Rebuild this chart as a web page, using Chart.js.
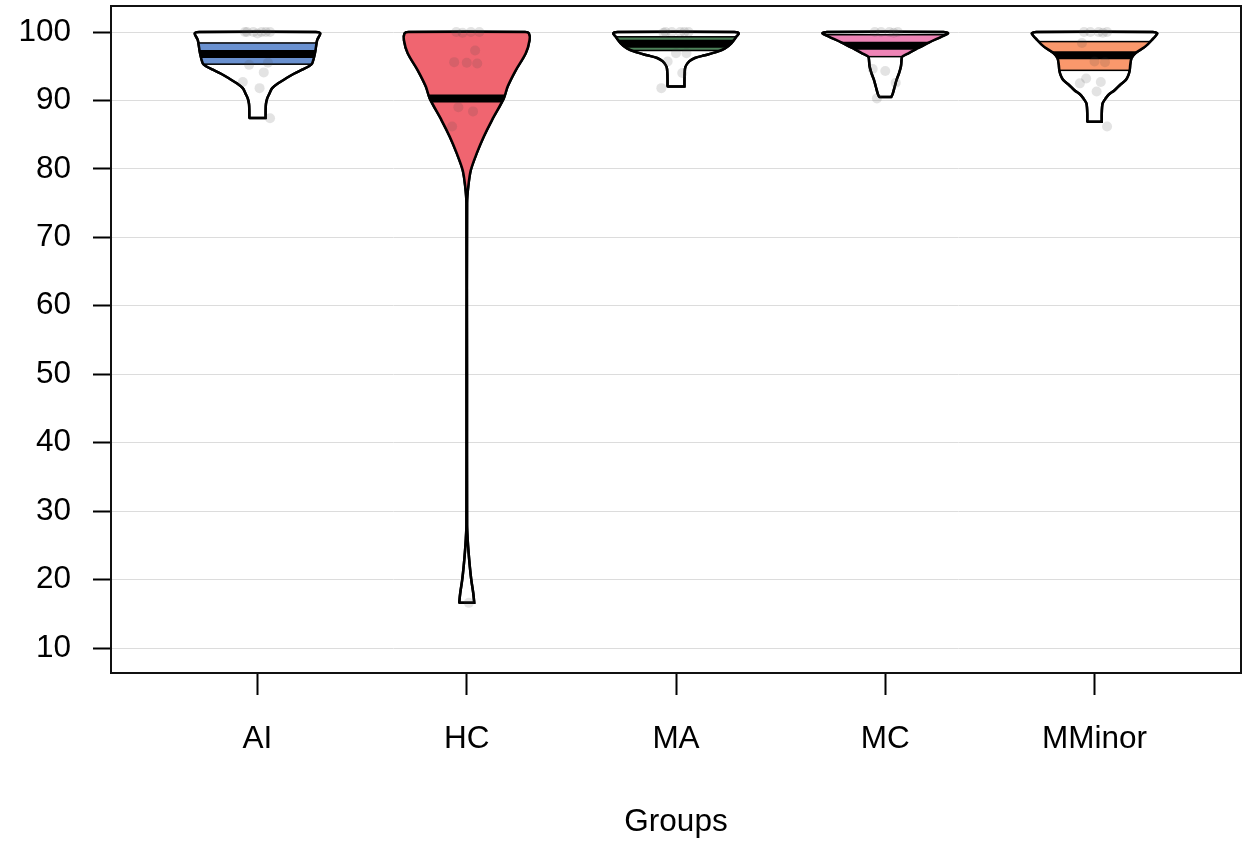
<!DOCTYPE html>
<html>
<head>
<meta charset="utf-8">
<script src="https://cdn.jsdelivr.net/npm/chart.js@4.4.1/dist/chart.umd.min.js"></script>
<style>
  html, body { margin: 0; padding: 0; background: #fff; }
</style>
</head>
<body>
<canvas id="pirate" width="1253" height="841"></canvas>
<script>
const groups = ['AI', 'HC', 'MA', 'MC', 'MMinor'];
const yTicks = [10, 20, 30, 40, 50, 60, 70, 80, 90, 100];

// individual scores per group
const aiScores = [100, 100, 100, 100, 100, 100, 99.8, 95.5, 95.2, 94.1, 92.7, 91.8, 87.4];
const hcScores = [100, 100, 100, 99.9, 97.3, 95.6, 95.5, 95.4, 89.0, 88.4, 86.2, 16.6];
const maScores = [100, 100, 100, 100, 100, 99.9, 96.9, 96.9, 95.7, 94.0, 91.8];
const mcScores = [100, 100, 100, 100, 99.9, 94.6, 94.3, 92.6, 90.3];
const mminorScores = [100, 100, 100, 100, 99.9, 98.4, 95.7, 95.6, 93.2, 92.7, 92.5, 91.3, 86.2];

// mean and inference band per group
const means = [96.8, 90.3, 98.3, 98.0, 96.6];
const bandLow = [95.3, 50, 97.3, 96.4, 94.4];
const bandHigh = [98.4, 100, 99.3, 99.6, 98.6];

// bean outlines: [score, relative density]
const aiBean = [[87.45, 0.13], [88.5, 0.13], [89.5, 0.135], [90.3, 0.155], [91.0, 0.19], [91.8, 0.235],
  [92.5, 0.33], [93.2, 0.45], [93.9, 0.58], [94.5, 0.71], [95.0, 0.82], [95.4, 0.87], [96.9, 0.915],
  [98.8, 0.95], [99.8, 1.0], [100, 0.93]];
const hcBean = [[16.6, 0.12], [18, 0.104], [20, 0.072], [22, 0.048], [24, 0.029], [26, 0.014], [28, 0.005],
  [50, 0.004], [75, 0.005], [77.4, 0.024], [79.8, 0.064], [82.3, 0.16], [84.7, 0.27], [87.1, 0.40],
  [90.3, 0.59], [92.0, 0.65], [94.4, 0.78], [96.9, 0.94], [98.8, 1.0], [99.8, 0.99], [100, 0.93]];
const maBean = [[92.05, 0.135], [93, 0.135], [94, 0.138], [94.9, 0.15], [95.7, 0.21], [96.2, 0.30],
  [96.6, 0.46], [97.1, 0.65], [97.6, 0.78], [98.35, 0.88], [99.3, 0.96], [99.8, 1.0], [100, 0.93]];
const mcBean = [[90.5, 0.096], [91, 0.12], [92, 0.15], [93, 0.18], [94, 0.22], [95, 0.25], [96, 0.26],
  [96.4, 0.27], [96.8, 0.35], [97.5, 0.49], [98.5, 0.70], [99.3, 0.89], [99.8, 1.0], [100, 0.93]];
const mminorBean = [[86.9, 0.115], [88, 0.115], [89, 0.12], [89.6, 0.13], [90.2, 0.17], [90.8, 0.22],
  [91.5, 0.32], [92.3, 0.41], [93.0, 0.50], [93.7, 0.54], [94.4, 0.56], [95.3, 0.57], [96.2, 0.59],
  [96.9, 0.65], [97.9, 0.81], [98.8, 0.91], [99.8, 1.0], [100, 0.93]];

const allScores = [aiScores, hcScores, maScores, mcScores, mminorScores];
const allBeans = [aiBean, hcBean, maBean, mcBean, mminorBean];

const bandColors = ['rgb(106,145,208)', 'rgb(240,101,112)', 'rgb(78,130,90)', 'rgb(238,132,182)', 'rgb(250,152,108)'];
const beanWidth = 0.3;
const jitter = [-0.05, 0.02, 0.06, -0.02, 0.04, -0.06, 0.0, 0.05, -0.04, 0.03, -0.07, 0.01, 0.06];
const font = { family: '"Liberation Sans", Arial, sans-serif', size: 31.5 };

// closed outline: left side up, right side down, back to start
function beanOutline(bean, pos) {
  const left = bean.map(([y, d]) => ({ x: pos - d * beanWidth, y: y }));
  const right = bean.slice().reverse().map(([y, d]) => ({ x: pos + d * beanWidth, y: y }));
  // doubled bottom corners keep the flat bottom sharp
  return [left[0], ...left, ...right, right[right.length - 1], left[0], left[0]];
}

const datasets = [];
const points = [];
allScores.forEach((scores, i) => {
  scores.forEach((s, k) => points.push({ x: i + 1 + jitter[k % jitter.length], y: s }));
});
datasets.push({
  label: 'scores',
  data: points,
  showLine: false,
  pointRadius: 5,
  pointHoverRadius: 5,
  pointBorderWidth: 0,
  pointBackgroundColor: 'rgba(70,70,70,0.15)',
  order: 0
});
allBeans.forEach((bean, i) => {
  datasets.push({
    label: groups[i],
    beanIndex: i,
    data: beanOutline(bean, i + 1),
    showLine: true,
    fill: 'shape',
    backgroundColor: '#fff',
    borderColor: '#000',
    borderWidth: 2.5,
    tension: 0.3,
    pointRadius: 0,
    order: 1
  });
});

// inference band + mean bar clipped to each bean
const bandPlugin = {
  id: 'bands',
  afterDatasetDraw(chart, args) {
    const ds = chart.data.datasets[args.index];
    if (ds.beanIndex === undefined) return;
    const i = ds.beanIndex;
    const ctx = chart.ctx;
    const xs = chart.scales.x, ys = chart.scales.y;
    const line = args.meta.dataset;
    const x0 = xs.getPixelForValue(i + 1 - beanWidth - 0.05);
    const x1 = xs.getPixelForValue(i + 1 + beanWidth + 0.05);
    ctx.save();
    ctx.beginPath();
    line.path(ctx);
    ctx.closePath();
    ctx.clip();
    const yTop = ys.getPixelForValue(bandHigh[i]);
    const yBot = ys.getPixelForValue(bandLow[i]);
    ctx.fillStyle = bandColors[i];
    ctx.fillRect(x0, yTop, x1 - x0, yBot - yTop);
    ctx.strokeStyle = '#000';
    ctx.lineWidth = 1.5;
    ctx.strokeRect(x0, yTop, x1 - x0, yBot - yTop);
    const ym = ys.getPixelForValue(means[i]);
    ctx.lineWidth = 8;
    ctx.beginPath();
    ctx.moveTo(x0, ym);
    ctx.lineTo(x1, ym);
    ctx.stroke();
    ctx.restore();
    ctx.save();
    ctx.beginPath();
    line.path(ctx);
    ctx.closePath();
    ctx.lineWidth = 2.5;
    ctx.lineJoin = 'round';
    ctx.strokeStyle = '#000';
    ctx.stroke();
    ctx.restore();
  }
};

const framePlugin = {
  id: 'frame',
  afterDraw(chart) {
    const { ctx, chartArea: a } = chart;
    ctx.save();
    ctx.strokeStyle = '#111';
    ctx.lineWidth = 2;
    ctx.strokeRect(a.left, a.top, a.right - a.left, a.bottom - a.top);
    ctx.restore();
  }
};

new Chart(document.getElementById('pirate'), {
  type: 'scatter',
  data: { datasets: datasets },
  plugins: [bandPlugin, framePlugin],
  options: {
    responsive: false,
    animation: false,
    layout: { padding: { left: 0, top: 6, right: 12, bottom: 0 } },
    plugins: {
      legend: { display: false },
      tooltip: { enabled: false }
    },
    scales: {
      x: {
        type: 'linear',
        min: 0.3,
        max: 5.7,
        afterBuildTicks: (scale) => { scale.ticks = groups.map((g, i) => ({ value: i + 1 })); },
        afterFit: (scale) => {
          scale.height = 168;
          scale.paddingLeft = 0;
          scale.paddingRight = 0;
        },
        ticks: {
          callback: (v) => groups[v - 1],
          color: '#000',
          font: font,
          padding: 25,
          maxRotation: 0
        },
        grid: { drawOnChartArea: false, tickLength: 22, tickColor: '#000', tickWidth: 2 },
        border: { display: false },
        title: { display: true, text: 'Groups', color: '#000', font: font, padding: { top: 0, bottom: 0 } }
      },
      y: {
        type: 'linear',
        min: 6.35,
        max: 103.8,
        afterBuildTicks: (scale) => { scale.ticks = yTicks.map(v => ({ value: v })); },
        afterFit: (scale) => {
          scale.width = 111;
          scale.paddingTop = 0;
          scale.paddingBottom = 0;
        },
        ticks: { color: '#000', font: font, padding: 22 },
        grid: { color: '#dcdcdc', lineWidth: 1, tickLength: 18, tickColor: '#000', tickWidth: 2 },
        border: { display: false }
      }
    }
  }
});
</script>
</body>
</html>
